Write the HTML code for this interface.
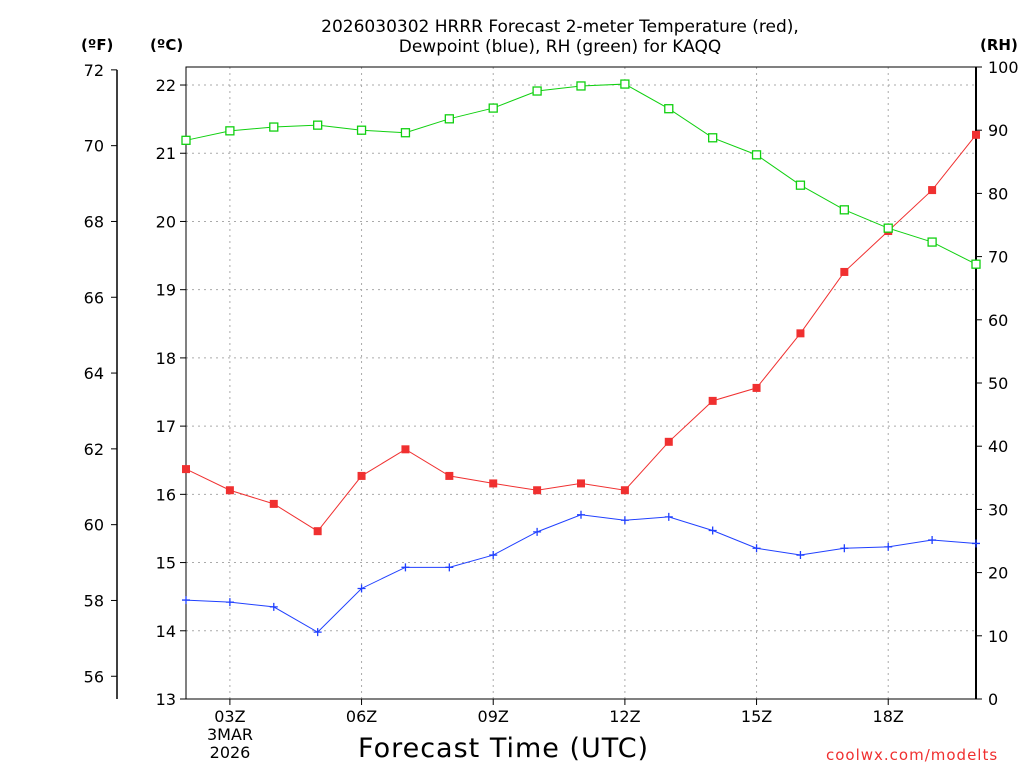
<!DOCTYPE html>
<html><head><meta charset="utf-8"><style>
body{margin:0;background:#fff;}
svg{display:block;font-family:"DejaVu Sans","Liberation Sans",sans-serif;}
</style></head><body>
<svg id="chart" width="1024" height="768"></svg>
<script>
const hours=[2,3,4,5,6,7,8,9,10,11,12,13,14,15,16,17,18,19,20];
const tempC=[16.37,16.06,15.86,15.46,16.27,16.66,16.27,16.16,16.06,16.16,16.06,16.77,17.37,17.56,18.36,19.26,19.86,20.46,21.27];
const dewC=[14.45,14.42,14.35,13.98,14.62,14.93,14.93,15.11,15.45,15.70,15.62,15.67,15.47,15.21,15.11,15.21,15.23,15.33,15.28];
const rh=[88.4,89.9,90.5,90.8,90.0,89.6,91.8,93.5,96.2,97.0,97.3,93.4,88.8,86.1,81.3,77.4,74.5,72.3,68.8];
const cTicks=[13,14,15,16,17,18,19,20,21,22];
const fTicks=[56,58,60,62,64,66,68,70,72];
const rhTicks=[0,10,20,30,40,50,60,70,80,90,100];
const xTicks=[3,6,9,12,15,18];
const xLabels=["03Z","06Z","09Z","12Z","15Z","18Z"];

const NS="http://www.w3.org/2000/svg";
const svg=document.getElementById('chart');
const L=186,R=976,T=67,B=699;
const xs=h=>L+(h-2)*(R-L)/18;
const yc=c=>699-(c-13)*68.22;
const yf=f=>yc((f-32)*5/9);
const yr=r=>B-r*(B-T)/100;
function el(tag,attrs,parent,text){const e=document.createElementNS(NS,tag);for(const k in attrs)e.setAttribute(k,attrs[k]);if(text!==undefined)e.textContent=text;(parent||svg).appendChild(e);return e;}

// grid
cTicks.forEach(c=>{if(c>13){const g=el('line',{x1:L,x2:R,y1:yc(c),y2:yc(c),stroke:'#aaa','stroke-dasharray':'2,4'});

}});
xTicks.forEach(h=>{const g=el('line',{x1:xs(h),x2:xs(h),y1:T,y2:B,stroke:'#aaa','stroke-dasharray':'2,4'});

});

// frame
const fr=el('rect',{x:L,y:T,width:R-L,height:B-T,fill:'none',stroke:'#000','stroke-width':1});


el('line',{x1:R,x2:R,y1:T,y2:B,stroke:'#000','stroke-width':2});
el('line',{x1:117,x2:117,y1:yf(72),y2:B,stroke:'#000','stroke-width':1.5});

// C axis
cTicks.forEach(c=>{el('line',{x1:L-6,x2:L,y1:yc(c),y2:yc(c),stroke:'#000'});
const t=el('text',{x:L-10,y:yc(c)+6,'text-anchor':'end','font-size':16},svg,String(c));

});
fTicks.forEach(f=>{el('line',{x1:111,x2:117,y1:yf(f),y2:yf(f),stroke:'#000'});
const t=el('text',{x:104,y:yf(f)+6,'text-anchor':'end','font-size':16},svg,String(f));

});
rhTicks.forEach(r=>{el('line',{x1:R,x2:R+6,y1:yr(r),y2:yr(r),stroke:'#000'});
const t=el('text',{x:R+12,y:yr(r)+6,'text-anchor':'start','font-size':16},svg,String(r));

});
xTicks.forEach((h,i)=>{el('line',{x1:xs(h),x2:xs(h),y1:B,y2:B+6,stroke:'#000'});
const t=el('text',{x:xs(h),y:722,'text-anchor':'middle','font-size':16},svg,xLabels[i]);

});

function series(vals,yfn,color,marker,name){
  const pts=vals.map((v,i)=>[xs(hours[i]),yfn(v)]);
  const p=el('polyline',{points:pts.map(p=>p.join(',')).join(' '),fill:'none',stroke:color,'stroke-width':1});
  
  
  pts.forEach(([x,y])=>{let m;
    if(marker==='filled')m=el('rect',{x:x-4,y:y-4,width:8,height:8,fill:color});
    else if(marker==='open')m=el('rect',{x:x-4,y:y-4,width:8,height:8,fill:'#fff',stroke:color,'stroke-width':1.3});
    else m=el('path',{d:`M${x-4},${y}H${x+4}M${x},${y-4}V${y+4}`,stroke:color,'stroke-width':1.3});
    
    });
}
series(tempC,yc,'#f03030','filled','temperature');
series(dewC,yc,'#2040ff','plus','dewpoint');
series(rh,yr,'#10d010','open','rh');
</script>
<div style="position:absolute;left:0;top:0;width:1024px;height:768px;font-family:'DejaVu Sans','Liberation Sans',sans-serif;pointer-events:none">
<div style="position:absolute;left:240px;top:17px;width:640px;text-align:center;font-size:17px;line-height:20px">2026030302 HRRR Forecast 2-meter Temperature (red),<br>Dewpoint (blue), RH (green) for KAQQ</div>
<div style="position:absolute;left:81px;top:36px;font-size:15px;font-weight:bold">(ºF)</div>
<div style="position:absolute;left:150px;top:36px;font-size:15px;font-weight:bold">(ºC)</div>
<div style="position:absolute;left:980px;top:36px;font-size:15px;font-weight:bold">(RH)</div>
<div style="position:absolute;left:200px;top:726px;width:60px;text-align:center;font-size:16px;line-height:18px">3MAR<br>2026</div>
<div style="position:absolute;left:358px;top:733px;font-size:27px;letter-spacing:1px">Forecast Time (UTC)</div>
<div style="position:absolute;left:826px;top:746px;font-size:15px;color:#f03030;letter-spacing:1px">coolwx.com/modelts</div>
</div>
</body></html>
